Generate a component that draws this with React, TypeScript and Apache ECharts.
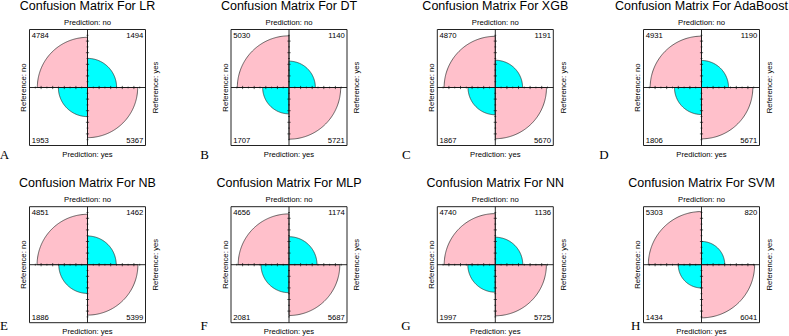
import React, { useEffect, useRef } from 'react';
import * as echarts from 'echarts';

// Confusion matrices of eight classifiers, drawn as fourfold plots
const models = ['LR', 'DT', 'XGB', 'AdaBoost', 'NB', 'MLP', 'NN', 'SVM'];
const panelTags = ['A', 'B', 'C', 'D', 'E', 'F', 'G', 'H'];
const predNoRefNo = [4784, 5030, 4870, 4931, 4851, 4656, 4740, 5303];
const predNoRefYes = [1494, 1140, 1191, 1190, 1462, 1174, 1136, 820];
const predYesRefNo = [1953, 1707, 1867, 1806, 1886, 2081, 1997, 1434];
const predYesRefYes = [5367, 5721, 5670, 5671, 5399, 5687, 5725, 6041];
const predictionLabels = ['Prediction: no', 'Prediction: yes'];
const referenceLabels = ['Reference: no', 'Reference: yes'];
const majorTicks = [-0.8, -0.6, -0.4, -0.2, 0.2, 0.4, 0.6, 0.8];
const minorTicks = [-0.9, -0.7, -0.5, -0.3, -0.1, 0.1, 0.3, 0.5, 0.7, 0.9];

// layout (pixels)
const colCenters = [87.5, 289, 495.3, 701.5];
const rowCenters = [87.5, 264.7];
const HALF = 58;
const tagX = [[4.5, 204.7, 406.3, 604], [4, 204, 406, 635.7]];
const tagY = [154.3, 325.5];

const PINK = '#FFC0CB';
const CYAN = '#00FFFF';
const SANS = '"Liberation Sans", Arial, Helvetica, sans-serif';
const SERIF = '"Liberation Serif", "Times New Roman", serif';
const LABEL_SIZE = 7.7;

// quadrant start angles (degrees, data space): TL, TR, BL, BR
const quadStart = [90, 0, 180, 270];

// Standardize a 2x2 table to equal margins (keeps the odds ratio)
function standardize(a: number, b: number, c: number, d: number) {
  const s = Math.sqrt((a * d) / (b * c));
  const u = s / (1 + s);
  return { diag: Math.sqrt(u), off: Math.sqrt(1 - u), or: (a * d) / (b * c) };
}

function txt(text: string, x: number, y: number, size: number, align: string, vAlign: string, extra: any = {}) {
  return {
    type: 'text',
    x,
    y,
    ...extra,
    style: {
      text,
      fill: '#000',
      fontSize: size,
      fontFamily: SANS,
      align,
      verticalAlign: vAlign,
      textAlign: align,
      textVerticalAlign: vAlign,
    },
  };
}

export default function App() {
  const ref = useRef<HTMLDivElement>(null);

  useEffect(() => {
    if (!ref.current) return;
    document.body.style.margin = '0';
    const chart = echarts.init(ref.current, undefined, { renderer: 'svg' });

    const grids: any[] = [];
    const xAxes: any[] = [];
    const yAxes: any[] = [];
    const series: any[] = [];

    models.forEach((model, i) => {
      const row = Math.floor(i / 4);
      const col = i % 4;
      const cx = colCenters[col];
      const cy = rowCenters[row];
      grids.push({ left: cx - HALF, top: cy - HALF, width: HALF * 2, height: HALF * 2, show: false });
      xAxes.push({ gridIndex: i, type: 'value', min: -1, max: 1, show: false });
      yAxes.push({ gridIndex: i, type: 'value', min: -1, max: 1, show: false });

      const std = standardize(predNoRefNo[i], predNoRefYes[i], predYesRefNo[i], predYesRefYes[i]);
      const diagPink = std.or > 1;
      const counts = [predNoRefNo[i], predNoRefYes[i], predYesRefNo[i], predYesRefYes[i]];
      const radii = [std.diag, std.off, std.off, std.diag];

      // quarter circles with their cell counts
      series.push({
        type: 'custom',
        coordinateSystem: 'cartesian2d',
        xAxisIndex: i,
        yAxisIndex: i,
        silent: true,
        clip: false,
        z: 2,
        data: counts.map((cnt, q) => [q, cnt, radii[q]]),
        renderItem: (_params: any, api: any) => {
          const q = api.value(0);
          const cnt = api.value(1);
          const r = api.value(2);
          const a0 = quadStart[q];
          const pts: number[][] = [api.coord([0, 0])];
          const steps = 72;
          for (let k = 0; k <= steps; k++) {
            const t = ((a0 + (90 * k) / steps) * Math.PI) / 180;
            pts.push(api.coord([r * Math.cos(t), r * Math.sin(t)]));
          }
          const isDiag = q === 0 || q === 3;
          const fill = isDiag === diagPink ? PINK : CYAN;
          const sx = q === 1 || q === 3 ? 1 : -1;
          const sy = q < 2 ? 1 : -1;
          const corner = api.coord([sx, sy]);
          return {
            type: 'group',
            children: [
              {
                type: 'polygon',
                shape: { points: pts },
                style: { fill, stroke: '#2b2b2b', lineWidth: 0.7 },
              },
              txt(
                String(cnt),
                corner[0] - sx * 2.2,
                corner[1] + (sy > 0 ? 6.2 : -5.3),
                LABEL_SIZE,
                sx < 0 ? 'left' : 'right',
                'middle'
              ),
            ],
          };
        },
      });

      // frame, axes with ticks, margin labels and title
      series.push({
        type: 'custom',
        coordinateSystem: 'cartesian2d',
        xAxisIndex: i,
        yAxisIndex: i,
        silent: true,
        clip: false,
        z: 3,
        data: [[0, 0]],
        renderItem: (_params: any, api: any) => {
          const tl = api.coord([-1, 1]);
          const br = api.coord([1, -1]);
          const c = api.coord([0, 0]);
          const children: any[] = [];
          const lineStyle = { stroke: '#111', lineWidth: 0.9 };
          children.push({
            type: 'rect',
            shape: { x: tl[0], y: tl[1], width: br[0] - tl[0], height: br[1] - tl[1] },
            style: { fill: 'none', stroke: '#222', lineWidth: 1 },
          });
          children.push({ type: 'line', shape: { x1: tl[0], y1: c[1], x2: br[0], y2: c[1] }, style: lineStyle });
          children.push({ type: 'line', shape: { x1: c[0], y1: tl[1], x2: c[0], y2: br[1] }, style: lineStyle });
          const addTicks = (vals: number[], len: number) => {
            vals.forEach((v) => {
              const ph = api.coord([v, 0]);
              const pv = api.coord([0, v]);
              children.push({ type: 'line', shape: { x1: ph[0], y1: ph[1] - len, x2: ph[0], y2: ph[1] + len }, style: { stroke: '#111', lineWidth: 0.7 } });
              children.push({ type: 'line', shape: { x1: pv[0] - len, y1: pv[1], x2: pv[0] + len, y2: pv[1] }, style: { stroke: '#111', lineWidth: 0.7 } });
            });
          };
          addTicks(majorTicks, 1.6);
          addTicks(minorTicks, 0.9);
          children.push(txt(predictionLabels[0], c[0], tl[1] - 7, LABEL_SIZE, 'center', 'middle'));
          children.push(txt(predictionLabels[1], c[0], br[1] + 8.5, LABEL_SIZE, 'center', 'middle'));
          children.push(txt(referenceLabels[0], tl[0] - 6, c[1], LABEL_SIZE, 'center', 'middle', { rotation: Math.PI / 2 }));
          children.push(txt(referenceLabels[1], br[0] + 9.7, c[1], LABEL_SIZE, 'center', 'middle', { rotation: Math.PI / 2 }));
          children.push(txt('Confusion Matrix For ' + model, c[0], tl[1] - 23.9, 12.5, 'center', 'middle'));
          return { type: 'group', children };
        },
      });
    });

    const graphic = panelTags.map((tag, i) => ({
      type: 'text',
      x: tagX[Math.floor(i / 4)][i % 4],
      y: tagY[Math.floor(i / 4)],
      style: {
        text: tag,
        fill: '#000',
        fontSize: 13,
        fontFamily: SERIF,
        align: 'center',
        verticalAlign: 'middle',
        textAlign: 'center',
        textVerticalAlign: 'middle',
      },
    }));

    chart.setOption({
      animation: false,
      backgroundColor: '#fff',
      grid: grids,
      xAxis: xAxes,
      yAxis: yAxes,
      series,
      graphic,
    });

    return () => chart.dispose();
  }, []);

  return (
    <div
      ref={ref}
      style={{ position: 'fixed', left: 0, top: 0, width: 789, height: 336, background: '#fff' }}
    />
  );
}
